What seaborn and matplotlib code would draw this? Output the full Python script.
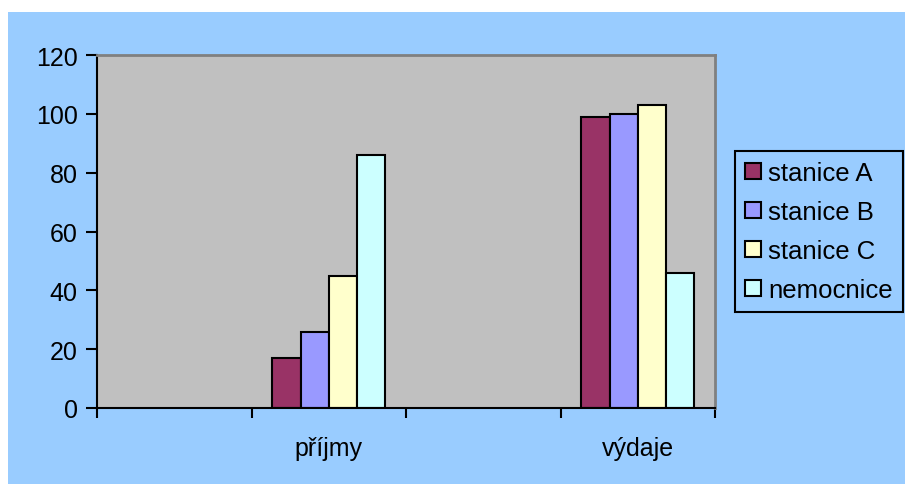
import seaborn as sns
import matplotlib.pyplot as plt
import pandas as pd
from matplotlib.patches import Rectangle

# data
categories = ["příjmy", "výdaje"]
slots = ["_empty1", "příjmy", "_empty2", "výdaje"]   # Excel chart has two blank categories
series = ["stanice A", "stanice B", "stanice C", "nemocnice"]
prijmy = [17, 26, 45, 86]
vydaje = [99, 100, 103, 46]
colors = ["#993366", "#9999FF", "#FFFFCC", "#CCFFFF"]
yticks = [0, 20, 40, 60, 80, 100, 120]

df = pd.DataFrame({
    "kategorie": ["příjmy"] * 4 + ["výdaje"] * 4,
    "serie": series * 2,
    "hodnota": prijmy + vydaje,
})

sns.set_style("white")
plt.rcParams['font.family'] = ['Liberation Sans', 'DejaVu Sans']
plt.rcParams['text.color'] = 'black'
plt.rcParams['xtick.color'] = 'black'
plt.rcParams['ytick.color'] = 'black'
plt.rcParams['xtick.labelcolor'] = 'black'
plt.rcParams['ytick.labelcolor'] = 'black'

fig = plt.figure(figsize=(9.05, 4.85), dpi=100)
fig.patch.set_facecolor("white")
# blue chart area (white strip at left and top like the original)
fig.patches.append(Rectangle((8 / 905, 0), 1 - 8 / 905, 1 - 13 / 485,
                             transform=fig.transFigure, facecolor="#99CCFF",
                             edgecolor="none", zorder=-10))

ax = fig.add_axes([97 / 905, 1 - 409 / 485, (715 - 97) / 905, (409 - 56) / 485])
ax.set_facecolor("#C0C0C0")

sns.barplot(data=df, x="kategorie", y="hodnota", hue="serie", order=slots,
            hue_order=series, palette=colors, width=0.73, edgecolor="black",
            linewidth=1.5, ax=ax, saturation=1)

ax.set_ylim(0, 120)
ax.set_xlim(-0.5, 3.5)
ax.set_yticks(yticks)
ax.set_yticklabels([str(v) for v in yticks], fontsize=18)

# labels at category centres, tick marks between categories
ax.set_xticks([0, 1, 2, 3])
ax.set_xticklabels(["", "příjmy", "", "výdaje"], fontsize=18)
ax.tick_params(axis="x", which="major", length=0, pad=20)
ax.set_xticks([-0.5, 0.5, 1.5, 2.5, 3.5], minor=True)
ax.tick_params(axis="x", which="minor", length=7, width=1.5, color="black",
               direction="out", bottom=True)
ax.tick_params(axis="y", length=8, width=1.5, color="black", direction="out",
               left=True, pad=6)
ax.set_xlabel("")
ax.set_ylabel("")

for side in ["left", "bottom"]:
    ax.spines[side].set_color("black")
    ax.spines[side].set_linewidth(1.5)
for side in ["top", "right"]:
    ax.spines[side].set_color("#808080")
    ax.spines[side].set_linewidth(2)

leg = ax.legend(loc="upper left", bbox_to_anchor=(735 / 905, 1 - 152 / 485),
                bbox_transform=fig.transFigure, fontsize=18.5, frameon=True,
                fancybox=False, edgecolor="black", facecolor="#99CCFF",
                handlelength=0.6, handleheight=0.6, handletextpad=0.3,
                labelspacing=0.58, borderpad=0.4, borderaxespad=0)
leg.get_frame().set_linewidth(1.5)
leg.get_frame().set_alpha(1)
for t in leg.get_texts():
    t.set_color("black")

plt.savefig("out.png", dpi=100)
